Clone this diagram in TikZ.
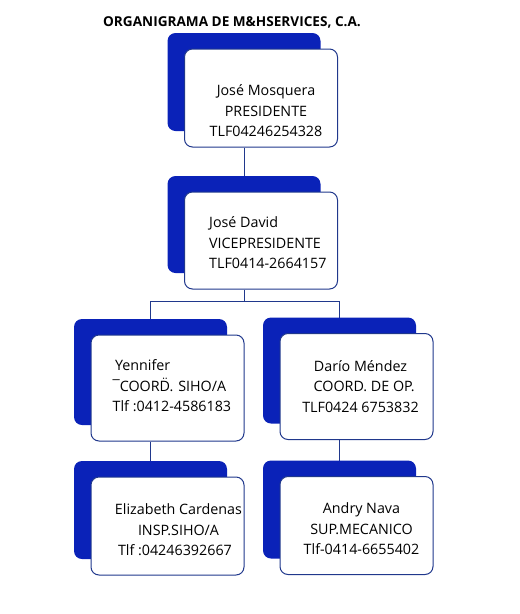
\documentclass[tikz,border=0pt]{standalone}
\usepackage{fontspec}
\setmainfont{Open Sans}
\usetikzlibrary{positioning,shadows,backgrounds}

\definecolor{cardblue}{RGB}{10,34,184}
\definecolor{edgeblue}{RGB}{32,56,140}

\begin{document}
\begin{tikzpicture}[
    x=1pt, y=-1pt,
    card/.style={rectangle, rounded corners=8pt, draw=edgeblue, line width=1pt, fill=white,
        minimum width=153pt, minimum height=98pt,
        general shadow={fill=cardblue, shadow xshift=-17pt, shadow yshift=16pt}},
    tallcard/.style={card, minimum height=106pt},
    info/.style={font=\fontsize{14.3}{20.5}\selectfont, align=center, inner sep=0pt},
    leftinfo/.style={info, align=left, anchor=west},
    link/.style={draw=edgeblue, line width=0.9pt}
]
\useasboundingbox (0,0) rectangle (520,614);

% Title
\node[font=\bfseries\fontsize{13.6}{16}\selectfont] (title) at (232,22) {ORGANIGRAMA DE M\&HSERVICES, C.A.};

% Cards
\node[card] (pres) at (261,98) {};
\node[card, minimum height=97pt] (vice) at (261,240.5) {};
\node[tallcard] (yen) at (167.5,388) {};
\node[tallcard] (dario) at (356.5,386.5) {};
\node[card] (eliz) at (167.5,526) {};
\node[card] (andry) at (356.5,525.5) {};

% Texts
\node[info] (pres-txt) at ([xshift=5pt, yshift=-13pt]pres.center) {José Mosquera\\PRESIDENTE\\TLF04246254328};
\node[leftinfo] (vice-txt) at ([xshift=25pt, yshift=-2.5pt]vice.west) {José David\\ VICEPRESIDENTE\\TLF0414-2664157};
\node[leftinfo] (yen-txt) at ([xshift=22pt, yshift=2pt]yen.west) {\,Yennifer\\¯COOR{\accent168 D}. SIHO/A\\Tlf :0412-4586183};
\node[info] (dario-txt) at ([xshift=4pt, yshift=0pt]dario.center) {Darío Méndez\\ \ \ COORD. DE OP.\\TLF0424 6753832};
\node[info] (eliz-txt) at ([xshift=11pt, yshift=-4pt]eliz.center) {Elizabeth Cardenas\\INSP.SIHO/A\\Tlf :04246392667\,\,\,};
\node[info] (andry-txt) at ([xshift=5pt, yshift=-3.5pt]andry.center) {Andry Nava\\SUP.MECANICO\\Tlf-0414-6655402};

% Connectors
\begin{scope}[on background layer]
\coordinate (fork) at ([xshift=-17pt, yshift=-12pt]vice.south);
\draw[link] ([xshift=-17pt]pres.south) -- ([xshift=-17pt]pres.south |- vice.north);
\draw[link] ([xshift=-17pt]vice.south) -- (fork);
\draw[link] ([xshift=-17pt]yen.north) |- (fork) -| ([xshift=-17pt]dario.north);
\draw[link] ([xshift=-17pt]yen.south) -- ([xshift=-17pt]eliz.north);
\draw[link] ([xshift=-17pt]dario.south) -- ([xshift=-17pt]andry.north);
\end{scope}

\end{tikzpicture}
\end{document}
